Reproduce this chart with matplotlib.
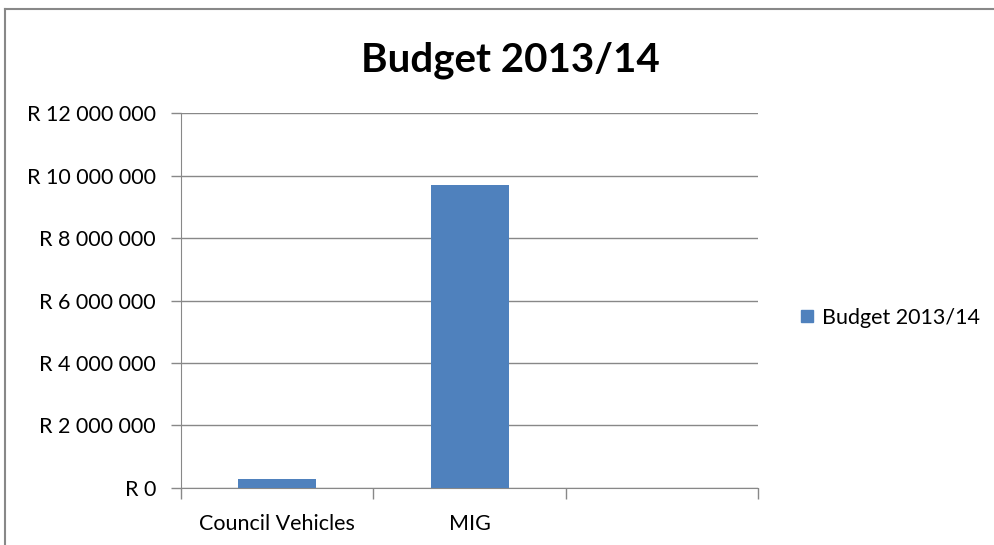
import numpy as np
import matplotlib.pyplot as plt
from matplotlib.lines import Line2D

# Budget per project
categories = ['Council Vehicles', 'MIG', '']
budget = [300000, 9710000, 0]
series_name = 'Budget 2013/14'
y_ticks = [0, 2000000, 4000000, 6000000, 8000000, 10000000, 12000000]

plt.rcParams['font.family'] = ['Lato', 'DejaVu Sans']

fig = plt.figure(figsize=(9.95, 5.45), dpi=100)
ax = fig.add_axes([0.182, 0.1046, 0.580, 0.688])

x = np.arange(len(categories))
ax.bar(x, budget, width=0.405, color='#4f81bd', label=series_name, zorder=3)

ax.set_xlim(-0.5, len(categories) - 0.5)
ax.set_ylim(0, 12000000)
ax.set_yticks(y_ticks)
ax.yaxis.set_major_formatter(plt.FuncFormatter(
    lambda v, pos: 'R ' + f"{v:,.0f}".replace(',', ' ')))

# category labels centred, ticks on the boundaries
ax.set_xticks(x)
ax.set_xticklabels(categories)
ax.tick_params(axis='x', length=0, pad=19, labelsize=15.5)
ax.set_xticks(np.arange(len(categories) + 1) - 0.5, minor=True)
ax.tick_params(axis='x', which='minor', length=8, color='#888888', width=1)
ax.tick_params(axis='y', length=7, color='#888888', width=1, labelsize=15.5, pad=11)

ax.grid(axis='y', color='#888888', linewidth=1, zorder=0)
for s in ['top', 'right']:
    ax.spines[s].set_visible(False)
for s in ['left', 'bottom']:
    ax.spines[s].set_color('#888888')

fig.suptitle(series_name, x=0.513, y=0.923, fontsize=29, fontweight='bold')

handle = Line2D([], [], marker='s', linestyle='none', markersize=8,
                color='#4f81bd')
fig.legend([handle], [series_name], loc='center left',
           bbox_to_anchor=(0.783, 0.417), frameon=False, fontsize=15.5,
           handletextpad=0.3, handlelength=0.8)

# chart frame (top and left edges)
fig.add_artist(Line2D([0.005, 1.0], [0.984, 0.984], color='#888888', lw=1.5))
fig.add_artist(Line2D([0.005, 0.005], [0.0, 0.984], color='#888888', lw=1.5))

fig.savefig('out.png', dpi=100)
